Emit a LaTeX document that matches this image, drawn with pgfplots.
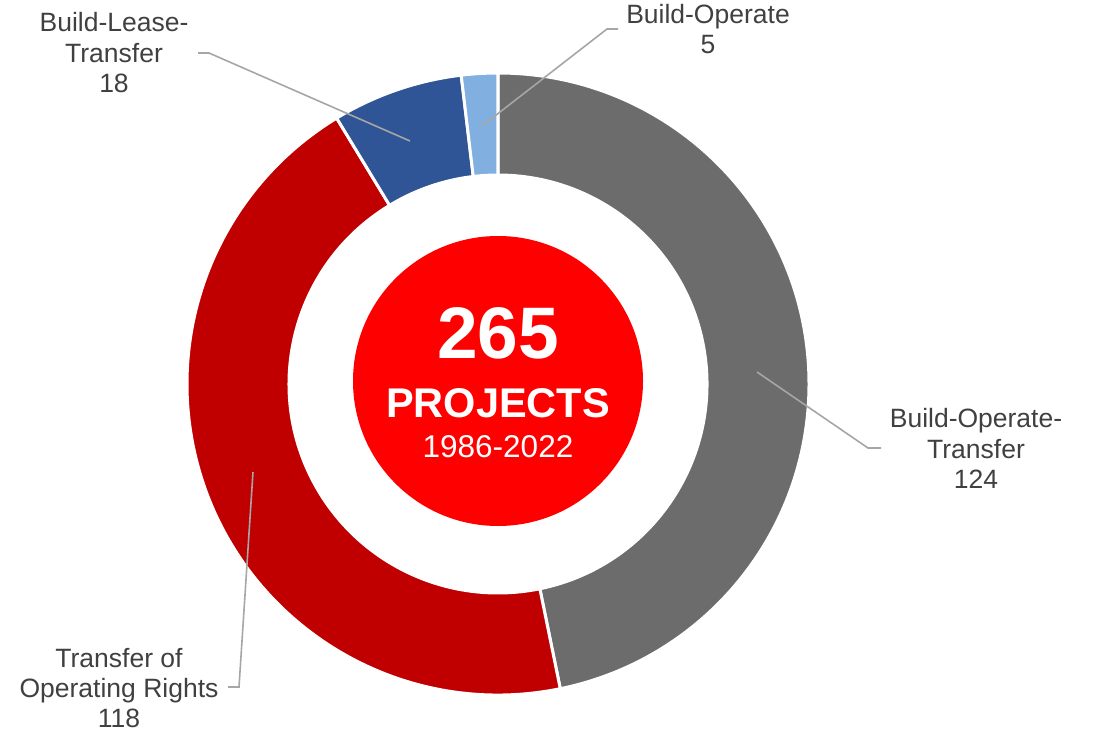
\documentclass[border=0pt]{standalone}
\usepackage{fontspec}
\setmainfont{Liberation Sans}
\usepackage{pgfplots}
\pgfplotsset{compat=1.18}
\usepackage{pgfplotstable}
\definecolor{botgray}{HTML}{6B6C6B}
\definecolor{torred}{HTML}{C00000}
\definecolor{bltblue}{HTML}{2F5597}
\definecolor{bolight}{HTML}{80AFE0}
\definecolor{centerred}{HTML}{FF0000}
\definecolor{labeltext}{HTML}{404040}
\definecolor{leader}{HTML}{A6A6A6}

\pgfplotstableread{
key value
BOT 124
TOR 118
BLT 18
BO 5
}\donutdata

\newcommand\donutseg[3]{%
  \fill[#1, draw=white, line width=3pt, line join=miter]
    ([shift={(#2:311pt)}]axis cs:498,348) arc[start angle=#2, end angle=#3, radius=311pt]
    -- ([shift={(#3:209pt)}]axis cs:498,348) arc[start angle=#3, end angle=#2, radius=209pt]
    -- cycle;}

\begin{document}
\begin{tikzpicture}
\pgfplotstablegetelem{0}{value}\of\donutdata \pgfmathsetmacro{\vA}{\pgfplotsretval}
\pgfplotstablegetelem{1}{value}\of\donutdata \pgfmathsetmacro{\vB}{\pgfplotsretval}
\pgfplotstablegetelem{2}{value}\of\donutdata \pgfmathsetmacro{\vC}{\pgfplotsretval}
\pgfplotstablegetelem{3}{value}\of\donutdata \pgfmathsetmacro{\vD}{\pgfplotsretval}
\pgfmathsetmacro{\tot}{\vA+\vB+\vC+\vD}
\pgfmathsetmacro{\aA}{90}
\pgfmathsetmacro{\aB}{\aA-\vA/\tot*360}
\pgfmathsetmacro{\aC}{\aB-\vB/\tot*360}
\pgfmathsetmacro{\aD}{\aC-\vC/\tot*360}
\pgfmathsetmacro{\aE}{\aD-\vD/\tot*360}
\begin{axis}[hide axis, scale only axis, width=1094pt, height=732pt,
  xmin=0, xmax=1094, ymin=0, ymax=732, clip=false]
\path (axis cs:0,0) rectangle (axis cs:1094,732);
\donutseg{botgray}{\aA}{\aB}
\donutseg{torred}{\aB}{\aC}
\donutseg{bltblue}{\aC}{\aD}
\donutseg{bolight}{\aD}{\aE}
\fill[centerred] (axis cs:498,351) circle[radius=145pt];
% centre text
\node[anchor=base, text=white, font=\fontsize{73}{80}\selectfont\bfseries] at (axis cs:498,374) {265};
\node[anchor=base, text=white, font=\fontsize{41.5}{48}\selectfont\bfseries] at (axis cs:498,315) {PROJECTS};
\node[anchor=base, text=white, font=\fontsize{31.5}{36}\selectfont] at (axis cs:498,275) {1986-2022};
% leader lines
\draw[leader, line width=1.6pt] (axis cs:482,606) -- (axis cs:607,703) -- (axis cs:618,703);
\draw[leader, line width=1.6pt] (axis cs:410,591) -- (axis cs:209,679) -- (axis cs:198,679);
\draw[leader, line width=1.6pt] (axis cs:757,360) -- (axis cs:868,284) -- (axis cs:881,284);
\draw[leader, line width=1.6pt] (axis cs:253,260) -- (axis cs:239,45) -- (axis cs:228,45);
% labels
\tikzset{lab/.style={anchor=base, text=labeltext, inner sep=0pt, font=\fontsize{26.5}{31}\selectfont}}
\node[lab] at (axis cs:708,708) {Build-Operate};
\node[lab] at (axis cs:708,678) {5};
\node[lab] at (axis cs:114,700) {Build-Lease-};
\node[lab] at (axis cs:114,669) {Transfer};
\node[lab] at (axis cs:114,639) {18};
\node[lab] at (axis cs:976,305) {Build-Operate-};
\node[lab] at (axis cs:976,274) {Transfer};
\node[lab] at (axis cs:976,244) {124};
\node[lab] at (axis cs:119,65) {Transfer of};
\node[lab] at (axis cs:119,35) {Operating Rights};
\node[lab] at (axis cs:119,5) {118};
\end{axis}
\end{tikzpicture}
\end{document}
